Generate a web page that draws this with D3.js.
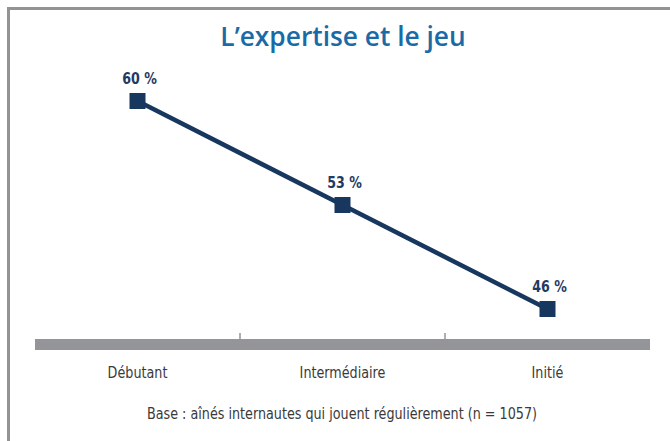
<html>
<head>
<meta charset="utf-8">
<script src="https://cdn.jsdelivr.net/npm/d3@7"></script>
<style>
  body { margin: 0; background: #fff; }
</style>
</head>
<body>
<svg id="chart" width="670" height="441"></svg>
<script>
// donnees
var categories = ['Débutant', 'Intermédiaire', 'Initié']
var valeurs = [60, 53, 46]
var etiquettes = ['60 %', '53 %', '46 %']
var titre = 'L\u2019expertise et le jeu'
var note = 'Base : aînés internautes qui jouent régulièrement (n = 1057)'

var police = '"DejaVu Sans Condensed", "Liberation Sans Narrow", sans-serif'
var serre = 0.86 // compression horizontale pour imiter une police etroite

var svg = d3.select('#chart')

// cadre gris (haut + gauche)
svg.append('path')
    .attr('d', 'M8.5,441 L8.5,8.5 L670,8.5')
    .attr('fill', 'none')
    .attr('stroke', '#939393')
    .attr('stroke-width', 3)

var x = d3.scaleBand()
    .domain(categories)
    .range([35, 650])
    .padding(0)

var y = d3.scaleLinear()
    .domain([46, 60])
    .range([309, 101])

// titre
svg.append('text')
    .attr('x', 343)
    .attr('y', 46)
    .attr('text-anchor', 'middle')
    .attr('font-family', '"Open Sans", Lato, sans-serif')
    .attr('font-weight', 600)
    .attr('font-size', 26.3)
    .attr('fill', '#1a6aa6')
    .text(titre)

// axe : bande grise
svg.append('rect')
    .attr('x', x.range()[0])
    .attr('y', 339)
    .attr('width', x.range()[1] - x.range()[0])
    .attr('height', 11)
    .attr('fill', '#939598')

// petites graduations entre categories
svg.selectAll('line.tick')
    .data(categories.slice(1))
    .enter()
    .append('line')
    .attr('class', 'tick')
    .attr('x1', function(d){ return x(d) })
    .attr('x2', function(d){ return x(d) })
    .attr('y1', 333)
    .attr('y2', 340)
    .attr('stroke', '#939598')
    .attr('stroke-width', 1.5)

// libelles axe
svg.selectAll('text.cat')
    .data(categories)
    .enter()
    .append('text')
    .attr('class', 'cat')
    .attr('transform', function(d){
        return 'translate(' + (x(d) + x.bandwidth() / 2) + ',378) scale(' + serre + ',1)'
    })
    .attr('text-anchor', 'middle')
    .attr('font-family', police)
    .attr('font-size', 16.5)
    .attr('fill', '#3a3a3a')
    .text(function(d){ return d })

var pts = categories.map(function(c, i){
    return { c: c, v: valeurs[i], lab: etiquettes[i] }
})

// ligne
var ligne = d3.line()
    .x(function(d){ return x(d.c) + x.bandwidth() / 2 })
    .y(function(d){ return y(d.v) })

svg.append('path')
    .datum(pts)
    .attr('d', ligne)
    .attr('fill', 'none')
    .attr('stroke', '#17375e')
    .attr('stroke-width', 4.5)

// marqueurs carres
svg.selectAll('rect.pt')
    .data(pts)
    .enter()
    .append('rect')
    .attr('class', 'pt')
    .attr('x', function(d){ return x(d.c) + x.bandwidth() / 2 - 8 })
    .attr('y', function(d){ return y(d.v) - 8 })
    .attr('width', 16)
    .attr('height', 16)
    .attr('fill', '#17375e')

// etiquettes valeurs
svg.selectAll('text.val')
    .data(pts)
    .enter()
    .append('text')
    .attr('class', 'val')
    .attr('transform', function(d){
        return 'translate(' + (x(d.c) + x.bandwidth() / 2 + 2) + ',' + (y(d.v) - 17) + ') scale(0.85,1)'
    })
    .attr('text-anchor', 'middle')
    .attr('font-family', police)
    .attr('font-weight', 'bold')
    .attr('font-size', 16.5)
    .attr('fill', '#1f3a63')
    .text(function(d){ return d.lab })

// note de bas
svg.append('text')
    .attr('transform', 'translate(342,419) scale(' + serre + ',1)')
    .attr('text-anchor', 'middle')
    .attr('font-family', police)
    .attr('font-size', 16.5)
    .attr('fill', '#3a3a3a')
    .text(note)
</script>
</body>
</html>
